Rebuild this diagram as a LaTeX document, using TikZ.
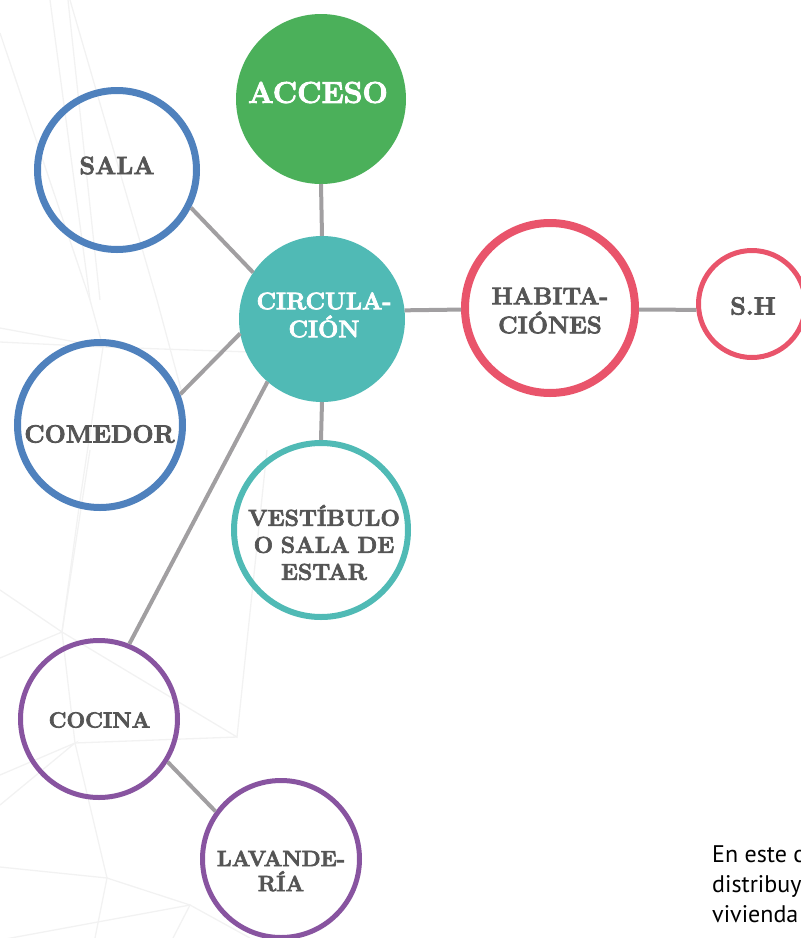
\documentclass[tikz,border=0pt]{standalone}
\usepackage{fontspec}
\newfontfamily\notefont{PT Sans}
\newfontfamily\roomfont{Latin Modern Roman}[BoldFeatures={FakeBold=3}]
\definecolor{accgreen}{HTML}{4BB05A}
\definecolor{hubteal}{HTML}{50BAB5}
\definecolor{ringblue}{HTML}{4F81BD}
\definecolor{ringred}{HTML}{E9546B}
\definecolor{ringpurple}{HTML}{8854A0}
\definecolor{linkgray}{HTML}{A19FA1}
\definecolor{labelgray}{HTML}{555555}
\definecolor{meshgray}{HTML}{F2F2F2}
\begin{document}
\begin{tikzpicture}[x=1pt,y=-1pt,
  disc/.style={circle, inner sep=0pt, outer sep=0pt},
  ring/.style={circle, inner sep=0pt, draw},
  roomtext/.style={inner sep=0pt, align=center, text=labelgray,
    font=\roomfont\bfseries\fontsize{#1}{#1}\selectfont},
  hubtext/.style={inner sep=0pt, align=center, text=white,
    font=\roomfont\bfseries\fontsize{#1}{#1}\selectfont},
  link/.style={draw=linkgray, line width=4pt},
  mesh/.style={draw=meshgray, line width=1.3pt}]
\useasboundingbox (0,0) rectangle (801,938);
\clip (0,0) rectangle (801,938);

% faint polygon mesh in the background
\coordinate (m1) at (103,347);
\coordinate (m2) at (62,632);
\coordinate (m3) at (75,743);
\coordinate (m4) at (107,878);
\coordinate (m5) at (237,737);
\coordinate (m6) at (190,905);
\draw[mesh] (50,0) -- (90,300) -- (m1);
\draw[mesh] (68,0) -- (100,300);
\draw[mesh] (0,33) -- (90,300);
\draw[mesh] (70,0) -- (157,300) -- (182,393);
\draw[mesh] (0,328) -- (m1) -- (250,352);
\draw[mesh] (0,342) -- (m1) -- (80,500) -- (m2);
\draw[mesh] (0,590) -- (m2) -- (m5) -- (267,450);
\draw[mesh] (0,658) -- (m2) -- (90,450);
\draw[mesh] (m2) -- (m3) -- (m4) -- (m6) -- (173,938);
\draw[mesh] (0,775) -- (m3) -- (0,805);
\draw[mesh] (0,867) -- (m4) -- (95,938);
\draw[mesh] (m5) -- (m3);
\draw[mesh] (m6) -- (250,938);
\draw[mesh] (0,940) -- (m6);

% rooms
\node[disc, fill=accgreen, minimum size=170pt] (acceso) at (321,99) {};
\node[disc, fill=hubteal, minimum size=166pt] (circ) at (322,319) {};
\node[ring, draw=ringblue, line width=7pt, minimum size=159pt] (sala) at (117,170) {};
\node[ring, draw=ringblue, line width=7pt, minimum size=165pt] (comedor) at (100,425) {};
\node[ring, draw=ringred, line width=8pt, minimum size=170pt] (habit) at (550,308) {};
\node[ring, draw=ringred, line width=5pt, minimum size=107pt] (sh) at (752,304) {};
\node[ring, draw=hubteal, line width=6pt, minimum size=174pt] (vest) at (321,530) {};
\node[ring, draw=ringpurple, line width=5pt, minimum size=157pt] (cocina) at (99,719) {};
\node[ring, draw=ringpurple, line width=5pt, minimum size=157pt] (lav) at (281,859) {};

% connectors
\draw[link] (acceso.south) -- (circ.north);
\draw[link] (circ.south) -- (vest.north);
\draw[link] (sala.-27) -- (circ.146);
\draw[link] (comedor.21) -- (circ.190);
\draw[link] (circ.229) -- (cocina.68);
\draw[link] (cocina.-32) -- (lav.144);
\draw[link] (circ.6) -- (habit.181);
\draw[link] (habit.-1) -- (sh.186);

% labels
\node[hubtext=30] (acceso-t) at (318,92.5) {ACCESO};
\node[hubtext=24, text width=170pt] (circ-t) at (324,315) {CIRCULA-\\[4pt]CIÓN};
\node[roomtext=25] (sala-t) at (117,165.5) {SALA};
\node[roomtext=25] (comedor-t) at (99.5,434) {COMEDOR};
\node[roomtext=24, text width=170pt] (habit-t) at (550,310.5) {HABITA-\\[5pt]CIÓNES};
\node[roomtext=25] (sh-t) at (753,306) {S.H};
\node[roomtext=23, text width=170pt] (vest-t) at (324,542.5) {VESTÍBULO\\[4pt]O SALA DE\\[4pt]ESTAR};
\node[roomtext=22] (cocina-t) at (99.5,720) {COCINA};
\node[roomtext=22, text width=160pt] (lav-t) at (281,871) {LAVANDE-\\[3pt]RÍA};

% caption text running off the right edge (base anchor sits on the last line)
\node[anchor=base west, inner sep=0pt, align=left,
  font=\notefont\fontsize{24}{30}\selectfont] (note)
  at (712,922) {En este c\\distribuy\\vivienda};
\end{tikzpicture}
\end{document}
